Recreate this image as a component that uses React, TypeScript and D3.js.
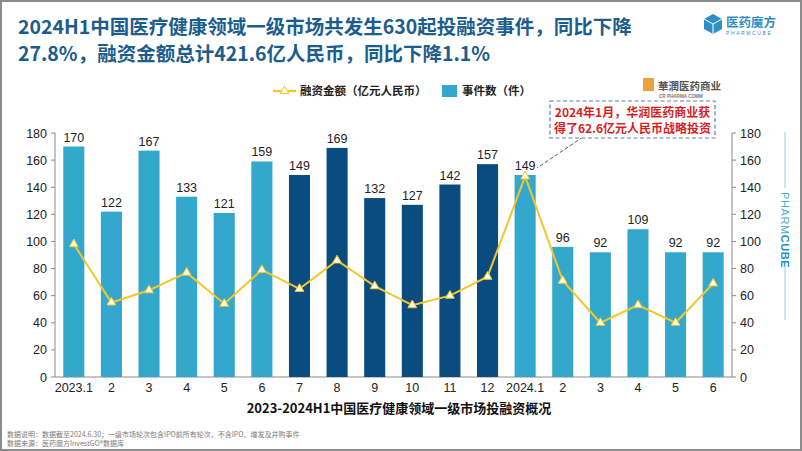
import React from 'react';
import * as d3 from 'd3';

// 月份标签（横轴）
const months = ['2023.1', '2', '3', '4', '5', '6', '7', '8', '9', '10', '11', '12', '2024.1', '2', '3', '4', '5', '6'];
// 事件数（件）
const eventCounts = [170, 122, 167, 133, 121, 159, 149, 169, 132, 127, 142, 157, 149, 96, 92, 109, 92, 92];
// 融资金额（亿元人民币）
const amounts = [98, 55, 64, 77, 54, 79, 65, 86, 67, 53, 60, 74, 148, 71, 40, 53, 40, 69];
// 2023H2 的柱子用深色
const darkMonths = [6, 7, 8, 9, 10, 11];
const yTicks = [0, 20, 40, 60, 80, 100, 120, 140, 160, 180];

const W = 802;
const H = 451;
const LIGHT = '#33a7cc';
const DARK = '#0a4b80';
const YELLOW = '#f3c629';
const CJK = '"Noto Sans CJK SC", "Noto Sans", sans-serif';
const LATIN = '"Liberation Sans", Arial, sans-serif';

const App: React.FC = () => {
  const keys = months.map((m, i) => `${i}`);
  const x = d3.scaleBand<string>().domain(keys).range([55, 732]).paddingInner(0.44).paddingOuter(0.22);
  const y = d3.scaleLinear().domain([0, 180]).range([377, 133]);
  const cx = (i: number) => (x(`${i}`) as number) + x.bandwidth() / 2;

  const line = d3.line<number>()
    .x((d, i) => cx(i))
    .y(d => y(d));
  const tri = d3.symbol().type(d3.symbolTriangle).size(34)() as string;

  return (
    <svg width={W} height={H} style={{ position: 'absolute', left: 0, top: 0, background: '#fff' }}>
      <rect x={1} y={1} width={W - 2} height={H - 2} fill="#fff" stroke="#8c8c8c" strokeWidth={2} />

      {/* 标题 */}
      <g fontFamily={CJK} fontWeight={700} fontSize={19.5} fill="#1b5d8c">
        <text x={18} y={34}>2024H1中国医疗健康领域一级市场共发生630起投融资事件，同比下降</text>
        <text x={18} y={61}>27.8%，融资金额总计421.6亿人民币，同比下降1.1%</text>
      </g>

      {/* 右上角 logo */}
      <g>
        <path d="M713,14 L722,19 L722,29 L713,34 L704,29 L704,19 Z" fill="#2f8fc4" />
        <path d="M704,19 L713,24 L722,19 M713,24 L713,34" stroke="#fff" strokeWidth={1} fill="none" />
        <text x={726} y={27} fontFamily={CJK} fontWeight={700} fontSize={12.5} fill="#2f8fc4">医药魔方</text>
        <text x={726} y={35} fontFamily={LATIN} fontSize={5} letterSpacing={1.6} fill="#2f8fc4">PHARMCUBE</text>
      </g>

      {/* 图例 */}
      <g fontFamily={CJK} fontWeight={700} fontSize={11.5} fill="#222">
        <line x1={273} x2={296} y1={91} y2={91} stroke={YELLOW} strokeWidth={2} />
        <path d={tri} transform="translate(284.5,91)" fill="#fff" stroke={YELLOW} strokeWidth={1} />
        <text x={300} y={95}>融资金额（亿元人民币）</text>
        <rect x={442} y={85} width={15} height={12} fill={LIGHT} />
        <text x={462} y={95}>事件数（件）</text>
      </g>

      {/* 华润医药商业 logo */}
      <g>
        <rect x={643} y={78} width={11} height={13} fill="#f0a23a" />
        <text x={658} y={90} fontFamily={CJK} fontWeight={700} fontSize={10.5} fill="#555">華潤医药商业</text>
        <text x={659} y={98} fontFamily={LATIN} fontWeight={700} fontSize={4.6} fill="#777">CR PHARMA COMM</text>
      </g>

      {/* 坐标轴 */}
      <g stroke="#8a8a8a" strokeWidth={1}>
        <line x1={55} x2={55} y1={133} y2={377} />
        <line x1={732} x2={732} y1={133} y2={377} />
        <line x1={55} x2={732} y1={377} y2={377} />
        {yTicks.map(t => (
          <g key={t}>
            <line x1={51} x2={55} y1={y(t)} y2={y(t)} />
            <line x1={732} x2={736} y1={y(t)} y2={y(t)} />
          </g>
        ))}
      </g>
      <g fontFamily={LATIN} fontSize={12.5} fill="#222">
        {yTicks.map(t => (
          <g key={t}>
            <text x={47} y={y(t) + 4.5} textAnchor="end">{t}</text>
            <text x={740} y={y(t) + 4.5}>{t}</text>
          </g>
        ))}
        {months.map((m, i) => (
          <text key={i} x={cx(i)} y={392} textAnchor="middle">{m}</text>
        ))}
      </g>

      {/* 柱子 */}
      {eventCounts.map((v, i) => (
        <rect key={i} x={x(`${i}`)} y={y(v)} width={x.bandwidth()} height={y(0) - y(v)}
          fill={darkMonths.includes(i) ? DARK : LIGHT} />
      ))}
      <g fontFamily={LATIN} fontSize={12.5} fill="#222" textAnchor="middle">
        {eventCounts.map((v, i) => (
          <text key={i} x={cx(i)} y={y(v) - 5}>{v}</text>
        ))}
      </g>

      {/* 折线 */}
      <path d={line(amounts) as string} fill="none" stroke={YELLOW} strokeWidth={2} />
      {amounts.map((v, i) => (
        <path key={i} d={tri} transform={`translate(${cx(i)},${y(v)})`} fill="#fffbe8" stroke={YELLOW} strokeWidth={1} />
      ))}

      {/* 注释框 */}
      <line x1={583} y1={137} x2={537} y2={168} stroke="#333" strokeWidth={0.8} strokeDasharray="4,2" />
      <rect x={550} y={101} width={165} height={37} fill="#fff" stroke="#6b8194" strokeWidth={1.2} strokeDasharray="4,2.5" />
      <g fontFamily={CJK} fontWeight={700} fontSize={12} fill="#d81e25" textAnchor="middle">
        <text x={632.5} y={117}>2024年1月，华润医药商业获</text>
        <text x={632.5} y={133}>得了62.6亿元人民币战略投资</text>
      </g>

      {/* 右侧 PHARMCUBE 竖排 */}
      <g>
        <line x1={785} x2={785} y1={132} y2={188} stroke="#a9d5e6" strokeWidth={1.2} />
        <line x1={785} x2={785} y1={266} y2={320} stroke="#a9d5e6" strokeWidth={1.2} />
        <text transform="translate(781,192) rotate(90)" fontFamily={LATIN} fontSize={11} fill="#4aaed6" letterSpacing={0.6}>
          PHARM<tspan fontWeight={700} fill="#1c8fc4">CUBE</tspan>
        </text>
      </g>

      {/* 副标题 */}
      <text x={399} y={413} textAnchor="middle" fontFamily={CJK} fontWeight={700} fontSize={13} fill="#111">
        2023-2024H1中国医疗健康领域一级市场投融资概况
      </text>

      {/* 数据说明 */}
      <g fontFamily={CJK} fontSize={7} fill="#7a7a7a">
        <text x={7} y={436.5}>数据说明：数据截至2024.6.30；一级市场轮次包含IPO前所有轮次，不含IPO、增发及并购事件</text>
        <text x={7} y={446}>数据来源：医药魔方InvestGO®数据库</text>
      </g>
    </svg>
  );
};

export default App;
